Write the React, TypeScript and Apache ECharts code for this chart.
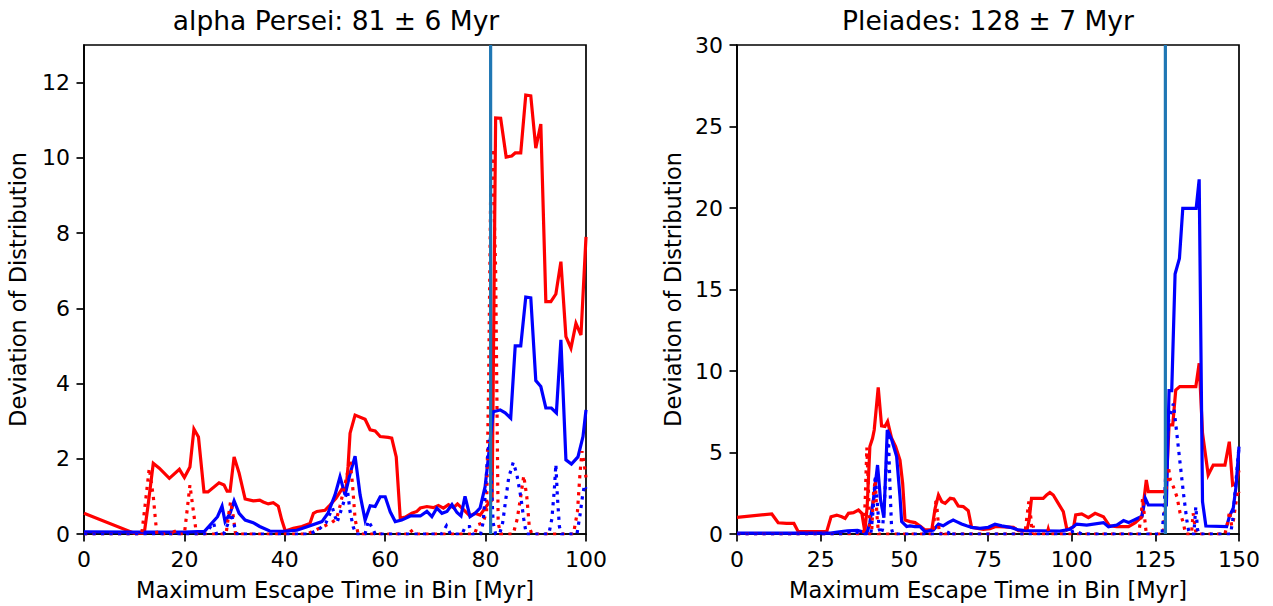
import React, { useEffect, useRef } from "react";
import * as echarts from "echarts";

// ---- alpha Persei panel ----
const alphaTitle = "alpha Persei: 81 ± 6 Myr";
const alphaAge = 81;
const alphaXTicks = [0, 20, 40, 60, 80, 100];
const alphaYTicks = [0, 2, 4, 6, 8, 10, 12];

const alphaRed: number[][] = [
  [0, 0.55], [10, 0.02], [12, 0.02], [12.7, 0.7], [13.8, 1.88], [15, 1.75], [17, 1.48], [19, 1.72],
  [20, 1.5], [21.1, 1.78], [21.9, 2.79], [22.8, 2.58], [23.9, 1.12], [24.7, 1.12], [26.9, 1.36],
  [27.9, 1.3], [28.5, 1.14], [29.1, 1.14], [29.9, 2.05], [30.9, 1.62], [32.1, 0.93], [33.7, 0.88],
  [35, 0.9], [35.7, 0.85], [36.7, 0.8], [37.7, 0.83], [38.7, 0.74], [39.4, 0.37], [40.1, 0.08],
  [41.7, 0.15], [43.4, 0.2], [45, 0.28], [45.7, 0.55], [46.4, 0.6], [48, 0.63], [49, 0.77],
  [50.2, 0.95], [51.4, 1.2], [52.2, 1.2], [52.6, 1.79], [53, 2.68], [54, 3.16], [56, 3.05],
  [57, 2.77], [58, 2.74], [59, 2.59], [60.6, 2.57], [61.3, 2.55], [62.2, 2.05], [63, 0.42],
  [64, 0.45], [65.3, 0.55], [66.3, 0.6], [67, 0.69], [68.3, 0.73], [69.6, 0.7], [70.6, 0.76],
  [71.6, 0.69], [72.6, 0.78], [73.6, 0.7], [74.4, 0.8], [75.6, 0.65], [76.9, 0.48], [77.9, 0.55],
  [78.9, 0.5], [79.9, 0.69], [80.5, 0.8], [81.3, 0.9], [82, 11.06], [83, 11.05], [84.1, 10.02],
  [85.2, 10.05], [85.9, 10.13], [87, 10.13], [88, 11.67], [89, 11.65], [90, 10.26], [91, 10.9],
  [92, 6.18], [93, 6.18], [94, 6.38], [95, 7.24], [96, 5.25], [97, 4.94], [98, 5.6], [99, 5.29],
  [100, 7.9],
];

const alphaBlue: number[][] = [
  [0, 0.06], [10, 0.05], [20, 0.05], [24, 0.07], [26.6, 0.46], [27.5, 0.74], [28.1, 0.33],
  [29.1, 0.55], [29.9, 0.88], [30.9, 0.55], [32.1, 0.37], [33.7, 0.3], [35, 0.2], [37, 0.08],
  [39.7, 0.07], [42.4, 0.1], [44.6, 0.2], [47.4, 0.33], [48.6, 0.55], [50, 1.04], [51, 1.52],
  [52, 1.04], [53, 1.6], [54, 2.07], [55, 1.04], [56, 0.37], [57, 0.75], [58, 0.73], [59, 0.99],
  [60, 0.99], [61, 0.59], [62, 0.33], [63.3, 0.37], [65, 0.48], [67, 0.48], [68.3, 0.6],
  [69.3, 0.46], [70.3, 0.69], [71.3, 0.55], [72.3, 0.6], [73.3, 0.78], [74.3, 0.57], [75.1, 0.48],
  [75.9, 1.0], [76.9, 0.46], [77.9, 0.55], [78.9, 0.69], [79.9, 1.26], [80.5, 1.97], [81.5, 3.25],
  [82.9, 3.3], [83.9, 3.22], [85, 3.08], [85.9, 5.0], [87, 5.0], [88, 6.3], [89, 6.28], [90, 4.08],
  [91, 3.92], [92, 3.35], [93.1, 3.35], [94.1, 3.22], [95, 5.16], [96, 1.97], [97.1, 1.86],
  [98.4, 2.05], [99.4, 2.59], [100, 3.3],
];

const alphaRedDotted: number[][] = [
  [0, 0], [11.5, 0], [12.2, 0.8], [13, 1.75], [13.8, 1.0], [14.5, 0], [17.4, 0], [17.8, 0.15],
  [18.2, 0], [20, 0], [20.6, 0.7], [21.1, 1.3], [21.7, 0.7], [22.4, 0], [28.3, 0], [28.8, 0.5],
  [29.2, 0.86], [29.7, 0.5], [30.2, 0], [44.5, 0], [46, 0.1], [48, 0.22], [49.3, 0.3], [50.3, 0.4],
  [51, 0.75], [51.6, 1.1], [52.3, 1.5], [53, 1.97], [53.5, 1.3], [54, 0.4], [54.6, 0], [64.3, 0],
  [65, 0.12], [65.7, 0], [77.8, 0], [78.5, 0.25], [79.5, 0.3], [80.2, 0.6], [80.6, 4], [81, 9],
  [81.4, 10.25], [82, 7], [82.5, 0.3], [83, 0], [85.5, 0], [86.3, 0.4], [87, 1.0], [87.6, 1.55],
  [88.2, 1.0], [88.7, 0.2], [89.2, 0], [97.5, 0], [98.3, 0.6], [98.8, 1.6], [99.2, 2.2],
  [99.6, 1.9], [100, 1.5],
];

const alphaBlueDotted: number[][] = [
  [0, 0], [24, 0], [25, 0.15], [25.8, 0.3], [26.4, 0], [27.8, 0], [28.6, 0.25], [29.3, 0.55],
  [30, 0.2], [30.5, 0], [45, 0], [47, 0.15], [48.2, 0.3], [49.5, 0.69], [50.4, 0.3], [51.5, 0.75],
  [52.5, 1.15], [53, 0.6], [53.6, 0.2], [54.2, 0], [56, 0], [56.6, 0.35], [57.5, 0.15], [58, 0],
  [71.2, 0], [72.2, 0.22], [73, 0], [75.3, 0], [76, 0.2], [76.8, 0.2], [77.4, 0], [79, 0],
  [79.5, 0.3], [79.9, 1.0], [80.3, 1.9], [80.7, 2.5], [81.1, 1.5], [81.5, 0.3], [82, 0], [82.8, 0],
  [83.4, 0.3], [84, 0.9], [84.6, 1.5], [85.5, 1.9], [86.2, 1.6], [87, 1.0], [87.6, 0.4], [88.1, 0],
  [92.6, 0], [93.2, 0.4], [93.7, 1.2], [94, 1.85], [94.3, 1.0], [94.7, 0.2], [95.1, 0], [98.2, 0],
  [98.8, 0.5], [99.3, 1.0], [99.7, 1.3], [100, 1.2],
];

// ---- Pleiades panel ----
const pleiadesTitle = "Pleiades: 128 ± 7 Myr";
const pleiadesAge = 128;
const pleiadesXTicks = [0, 25, 50, 75, 100, 125, 150];
const pleiadesYTicks = [0, 5, 10, 15, 20, 25, 30];

const pleiadesRed: number[][] = [
  [0, 1.02], [10.4, 1.23], [12.3, 0.69], [14.8, 0.65], [17, 0.65], [18.3, 0.14], [24.8, 0.14],
  [26.8, 0.14], [28.1, 1.06], [29.8, 1.16], [31.3, 1.06], [32.3, 0.96], [33.3, 1.27], [34.8, 1.31],
  [36.3, 1.47], [37.3, 1.27], [38.2, 0.14], [38.9, 1.68], [39.7, 5.36], [40.5, 5.87], [41, 6.38],
  [42.2, 9.0], [43.2, 6.63], [44.2, 6.6], [45, 6.9], [46.2, 5.87], [47.4, 5.36], [48.7, 4.54],
  [49.5, 3.1], [50.2, 0.86], [51.7, 0.76], [53.2, 0.7], [54.7, 0.49], [56.2, 0.25], [58.2, 0.25],
  [59.2, 1.58], [60.2, 2.39], [61.2, 1.98], [62.2, 1.88], [63.7, 2.19], [64.8, 2.15], [66.1, 1.72],
  [67.6, 1.68], [69.1, 1.43], [70.1, 0.41], [73.6, 0.29], [75.6, 0.33], [77.1, 0.45], [78.6, 0.45],
  [82.6, 0.41], [84.1, 0.2], [86.6, 0.2], [87.3, 0.86], [88, 2.19], [89.5, 2.19], [91.5, 2.19],
  [92.5, 2.39], [93.5, 2.54], [94.5, 2.39], [96, 1.88], [97.5, 1.37], [98.6, 0.25], [100.6, 0.45],
  [101.2, 1.17], [103, 1.23], [105, 1.0], [107, 1.27], [109.5, 1.06], [111.3, 0.5], [113.5, 0.45],
  [117, 0.45], [119, 0.7], [121, 1.06], [122.3, 3.31], [122.9, 2.6], [128.2, 2.6], [129.1, 6.69],
  [130.2, 6.69], [131.1, 8.83], [132.3, 9.04], [137.1, 9.04], [138.1, 10.47], [139.1, 6.18],
  [140.8, 3.62], [142.3, 4.23], [145.8, 4.23], [147.1, 5.66], [148.1, 3.0], [149.1, 3.1], [150, 3.9],
];

const pleiadesBlue: number[][] = [
  [0, 0.05], [28, 0.05], [30, 0.12], [33, 0.2], [36, 0.22], [38, 0.1], [38.8, 0.05], [39.7, 0.7],
  [40.9, 2.3], [42, 4.23], [42.9, 2.08], [43.9, 1.0], [44.9, 6.38], [46.2, 5.8], [47.7, 4.75],
  [48.7, 2.29], [49.2, 0.76], [50.7, 0.46], [51.7, 0.5], [53.2, 0.45], [54.7, 0.45], [56.2, 0.14],
  [58.7, 0.25], [60.2, 0.6], [61.6, 0.5], [63.1, 0.7], [64.6, 0.86], [65.6, 0.76], [67.1, 0.61],
  [68.6, 0.5], [70.1, 0.41], [72.6, 0.35], [75.1, 0.41], [77.1, 0.6], [79.1, 0.5], [81.6, 0.41],
  [84.1, 0.25], [86.6, 0.2], [90.5, 0.2], [96.5, 0.18], [99.5, 0.29], [101.5, 0.61], [104.5, 0.55],
  [109.5, 0.7], [111, 0.45], [113.5, 0.55], [115.5, 0.82], [117, 0.7], [119, 0.9], [121, 1.1],
  [122, 2.19], [122.9, 1.78], [128.3, 1.78], [129.1, 8.8], [129.9, 8.8], [130.9, 15.95],
  [132.2, 16.9], [133.2, 19.98], [137.2, 19.98], [138.1, 21.76], [139.1, 1.98], [140.1, 0.49],
  [146.3, 0.45], [147.1, 1.06], [148.3, 1.6], [149.1, 2.9], [150, 5.36],
];

const pleiadesRedDotted: number[][] = [
  [0, 0], [37.8, 0], [38.3, 2], [38.8, 5.3], [39.3, 2.5], [39.7, 0], [40.2, 0], [40.8, 2.5],
  [41.3, 3.3], [41.8, 1.2], [42.3, 0], [58.5, 0], [59, 1.0], [59.5, 2.2], [60, 1.0], [60.5, 0],
  [61, 0], [61.5, 0.2], [62, 0], [86, 0], [86.6, 1.0], [87.2, 2.0], [87.8, 1.0], [88.2, 0],
  [88.5, 0.5], [88.9, 0], [92.6, 0], [93, 0.3], [93.4, 0], [120, 0], [120.7, 1.0], [121.2, 2.2],
  [121.8, 1.0], [122.3, 0], [127.4, 0], [128, 2.3], [128.9, 4.13], [129.5, 3.3], [130.4, 2.9],
  [131.5, 2.25], [132.4, 1.28], [133.4, 0.67], [134, 0], [135.8, 0], [136.3, 1.28], [136.8, 0.5],
  [137.2, 0], [145.8, 0], [146.5, 0.6], [147.2, 1.4], [147.8, 0.5], [148.3, 0.8], [149, 1.8],
  [149.7, 2.7], [150, 2.5],
];

const pleiadesBlueDotted: number[][] = [
  [0, 0], [32, 0], [34, 0.15], [36, 0.1], [38, 0], [40, 0], [40.7, 1.5], [41.3, 3.6], [41.9, 2],
  [42.5, 0.3], [43, 0], [43.5, 0.3], [44.2, 2.5], [44.8, 5.0], [45.2, 6.2], [45.7, 3], [46.2, 0.3],
  [46.6, 0], [63, 0], [63.5, 0.2], [64, 0], [98, 0], [101, 0.2], [103, 0], [127, 0], [127.6, 1.5],
  [128.3, 4.5], [129, 7.0], [130.4, 8.0], [131.4, 6.2], [132.4, 4.34], [133.4, 2.5], [134.4, 0.86],
  [134.9, 0.25], [135.3, 0], [136.5, 0], [137.1, 1.68], [137.6, 0.3], [138, 0], [147.5, 0],
  [148.1, 0.86], [149, 3], [150, 5.36],
];

const xLabel = "Maximum Escape Time in Bin [Myr]";
const yLabel = "Deviation of Distribution";

const FONT = '"DejaVu Sans", sans-serif';
const TICK_SIZE = 22;
const LABEL_SIZE = 22.5;
const TITLE_SIZE = 26.5;
const LW = 3.2;
const DOTS = [3.2, 5.3];

function makeXAxis(gridIndex: number, max: number, interval: number, ticks: number[]) {
  return {
    type: "value",
    gridIndex,
    min: 0,
    max,
    interval,
    name: xLabel,
    nameLocation: "middle",
    nameGap: 44,
    nameTextStyle: { fontFamily: FONT, fontSize: LABEL_SIZE, color: "#000" },
    axisLine: { show: true, onZero: false, lineStyle: { color: "#000", width: 1.7 } },
    axisTick: { show: true, inside: false, length: 7.5, lineStyle: { color: "#000", width: 1.7 }, customValues: ticks },
    axisLabel: { margin: 14, fontFamily: FONT, fontSize: TICK_SIZE, color: "#000", customValues: ticks },
    splitLine: { show: false },
  };
}

function makeYAxis(gridIndex: number, max: number, interval: number, ticks: number[], gap: number) {
  return {
    type: "value",
    gridIndex,
    min: 0,
    max,
    interval,
    name: yLabel,
    nameLocation: "middle",
    nameGap: gap,
    nameTextStyle: { fontFamily: FONT, fontSize: LABEL_SIZE, color: "#000" },
    axisLine: { show: true, onZero: false, lineStyle: { color: "#000", width: 1.7 } },
    axisTick: { show: true, inside: false, length: 7.5, lineStyle: { color: "#000", width: 1.7 }, customValues: ticks },
    axisLabel: { margin: 14, fontFamily: FONT, fontSize: TICK_SIZE, color: "#000", customValues: ticks },
    splitLine: { show: false },
  };
}

function lineSeries(idx: number, data: number[][], color: string, dotted: boolean) {
  return {
    type: "line",
    xAxisIndex: idx,
    yAxisIndex: idx,
    data,
    showSymbol: false,
    symbol: "none",
    clip: true,
    lineStyle: { color, width: LW, type: dotted ? DOTS : "solid", cap: "butt", join: "miter" },
    itemStyle: { color },
    emphasis: { disabled: true },
  };
}

function ageLine(idx: number, age: number, top: number) {
  return {
    type: "line",
    xAxisIndex: idx,
    yAxisIndex: idx,
    data: [[age, 0], [age, top]],
    showSymbol: false,
    symbol: "none",
    lineStyle: { color: "#1f77b4", width: LW },
    emphasis: { disabled: true },
  };
}

export default function App() {
  const ref = useRef<HTMLDivElement>(null);

  useEffect(() => {
    if (!ref.current) return;
    document.body.style.margin = "0";
    const chart = echarts.init(ref.current, null, { renderer: "svg" });
    chart.setOption({
      animation: false,
      backgroundColor: "#fff",
      grid: [
        { left: 84, top: 45, width: 502, height: 489, show: true, borderColor: "#000", borderWidth: 1.7, backgroundColor: "transparent" },
        { left: 737, top: 45, width: 502, height: 489, show: true, borderColor: "#000", borderWidth: 1.7, backgroundColor: "transparent" },
      ],
      xAxis: [makeXAxis(0, 100, 20, alphaXTicks), makeXAxis(1, 150, 25, pleiadesXTicks)],
      yAxis: [makeYAxis(0, 13, 2, alphaYTicks, 55), makeYAxis(1, 30, 5, pleiadesYTicks, 53)],
      graphic: [
        {
          type: "text",
          x: 336,
          y: 20,
          style: { text: alphaTitle, fontFamily: FONT, fontSize: TITLE_SIZE, fill: "#000", align: "center", verticalAlign: "middle" },
        },
        {
          type: "text",
          x: 988,
          y: 20,
          style: { text: pleiadesTitle, fontFamily: FONT, fontSize: TITLE_SIZE, fill: "#000", align: "center", verticalAlign: "middle" },
        },
      ],
      series: [
        lineSeries(0, alphaRed, "#ff0000", false),
        lineSeries(0, alphaBlue, "#0000ff", false),
        lineSeries(0, alphaRedDotted, "#ff0000", true),
        lineSeries(0, alphaBlueDotted, "#0000ff", true),
        ageLine(0, alphaAge, 13),
        lineSeries(1, pleiadesRed, "#ff0000", false),
        lineSeries(1, pleiadesBlue, "#0000ff", false),
        lineSeries(1, pleiadesRedDotted, "#ff0000", true),
        lineSeries(1, pleiadesBlueDotted, "#0000ff", true),
        ageLine(1, pleiadesAge, 30),
      ],
    });
    return () => chart.dispose();
  }, []);

  return <div ref={ref} style={{ position: "absolute", left: 0, top: 0, width: 1273, height: 606 }} />;
}
